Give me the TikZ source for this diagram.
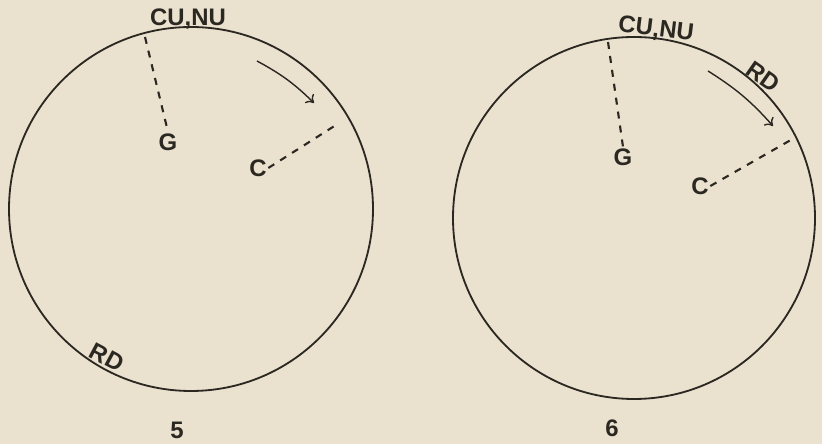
\documentclass[tikz,border=0pt]{standalone}
\usepackage{fontspec}
\setmainfont{Liberation Sans}
\usetikzlibrary{arrows.meta, positioning}
\definecolor{paper-color}{HTML}{EBE1CF}
\definecolor{ink-color}{HTML}{2B2822}
\tikzset{
  orbit/.style={draw=ink-color, line width=1.3pt},
  tag/.style={text=ink-color, font=\fontsize{17}{17}\selectfont\bfseries, inner sep=1pt},
  radius-line/.style={draw=ink-color, line width=1.5pt, dash pattern=on 5pt off 5pt},
  motion/.style={draw=ink-color, line width=1pt, -{To[length=5pt, width=9pt]}}
}

\begin{document}
\begin{tikzpicture}[x=0.025cm, y=-0.025cm]
  \fill[paper-color] (0,0) rectangle (822,444);
  \useasboundingbox (0,0) rectangle (822,444);

  % figure 5
  \draw[orbit] (191,209) circle [radius=182];
  \node[tag] (cunu5) at (188,19) {CU,NU};
  \node[tag, rotate=-28] (rd5) at (107,357) {RD};
  \node[tag] (g5) at (168,142) {G};
  \node[tag] (c5) at (258,168) {C};
  \node[tag] (num5) at (177,430) {5};
  \coordinate (top5) at (145,37);
  \coordinate (rim5) at (336,125);
  \coordinate (from5) at (257,61);
  \coordinate (to5) at (314,103);
  \draw[radius-line] (top5) -- (g5.north);
  \draw[radius-line] (c5.east) -- (rim5);
  \draw[motion] (from5) to[bend left=8] (to5);

  % figure 6
  \draw[orbit] (634,218) circle [radius=181];
  \node[tag, rotate=-7] (cunu6) at (656,30) {CU,NU};
  \node[tag, rotate=-35] (rd6) at (763,77) {RD};
  \node[tag] (g6) at (623,157) {G};
  \node[tag] (c6) at (700,186) {C};
  \node[tag] (num6) at (612,428) {6};
  \coordinate (top6) at (608,42);
  \coordinate (rim6) at (796,137);
  \coordinate (from6) at (708,71);
  \coordinate (to6) at (773,126);
  \draw[radius-line] (top6) -- (g6.north);
  \draw[radius-line] (c6.east) -- (rim6);
  \draw[motion] (from6) to[bend left=8] (to6);
\end{tikzpicture}
\end{document}
